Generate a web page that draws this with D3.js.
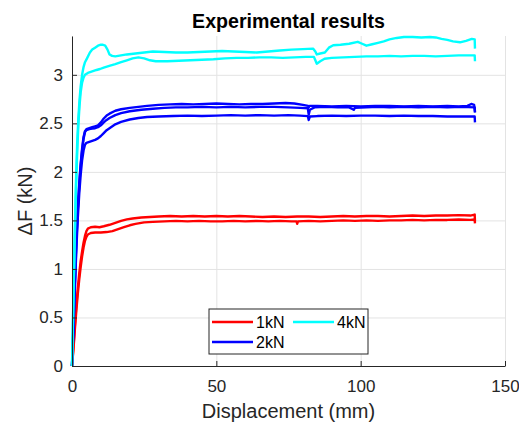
<!DOCTYPE html>
<html>
<head>
<meta charset="utf-8">
<script src="https://d3js.org/d3.v7.min.js"></script>
<style>
  html, body { margin: 0; padding: 0; background: #fff; }
  svg { display: block; font-family: 'Liberation Sans', Arial, sans-serif; }
  .grid line { stroke: #e3e3e3; stroke-width: 1; }
  .grid path { display: none; }
  .axis path, .axis line { stroke: #262626; }
  .axis text { fill: #262626; font-size: 17px; }
</style>
</head>
<body>
<div id="chart"></div>
<script>
(function () {
  'use strict';

  // Tick values
  const X_TICKS = [0, 50, 100, 150];
  const Y_TICKS = [0, 0.5, 1, 1.5, 2, 2.5, 3];

  const LABELS = ['1kN', '2kN', '4kN'];
  const COLORS = ['#ff0000', '#0000ff', '#00ffff'];

  // 1kN tests  [displacement mm, ΔF kN]
  const red1 = [[0,0],[0.5,0.2],[1,0.42],[1.5,0.62],[2,0.8],[2.5,0.95],[3,1.08],[3.5,1.18],[4,1.27],[4.5,1.34],[5,1.39],[5.5,1.415],[6.5,1.43],[8,1.435],[9.5,1.43],[11,1.44],[13,1.455],[15,1.475],[17,1.495],[19,1.51],[21,1.52],[24,1.53],[27,1.535],[30,1.54],[34,1.545],[38,1.54],[42,1.545],[46,1.54],[50,1.545],[54,1.54],[58,1.545],[62,1.54],[66,1.535],[70,1.54],[74,1.535],[78,1.54],[82,1.54],[86,1.535],[90,1.54],[94,1.545],[98,1.54],[102,1.545],[106,1.545],[110,1.54],[114,1.545],[118,1.55],[122,1.545],[126,1.55],[130,1.55],[134,1.555],[138,1.55],[139.5,1.56],[139.6,1.49]];
  const red2 = [[0,0],[0.5,0.17],[1,0.38],[1.5,0.57],[2,0.74],[2.5,0.89],[3,1.02],[3.5,1.13],[4,1.22],[4.5,1.29],[5,1.33],[5.5,1.355],[6.5,1.37],[8,1.375],[10,1.375],[12,1.38],[14,1.39],[16,1.41],[18,1.43],[20,1.45],[22,1.465],[25,1.48],[28,1.485],[32,1.49],[36,1.495],[40,1.49],[44,1.495],[48,1.49],[52,1.49],[56,1.495],[60,1.49],[64,1.495],[68,1.49],[72,1.495],[76,1.49],[77.8,1.49],[78,1.465],[78.3,1.49],[82,1.495],[86,1.49],[90,1.495],[94,1.5],[98,1.495],[102,1.5],[106,1.495],[110,1.5],[114,1.5],[118,1.505],[122,1.5],[126,1.505],[130,1.505],[134,1.51],[138,1.505],[139.5,1.51],[139.6,1.47]];

  // 2kN tests
  const blue1 = [[0,0],[0.5,0.42],[1,0.88],[1.5,1.3],[2,1.62],[2.5,1.88],[3,2.08],[3.5,2.24],[4,2.36],[4.5,2.42],[5,2.44],[6,2.45],[7,2.46],[8,2.47],[9,2.48],[10,2.51],[11,2.55],[12,2.58],[13,2.6],[15,2.63],[17,2.645],[20,2.66],[23,2.67],[26,2.68],[30,2.69],[34,2.695],[38,2.7],[42,2.695],[46,2.7],[50,2.705],[54,2.7],[58,2.695],[62,2.7],[66,2.7],[70,2.705],[74,2.71],[77,2.705],[80,2.69],[81.8,2.68],[82,2.665],[82.3,2.68],[85,2.68],[90,2.675],[95,2.68],[100,2.675],[105,2.68],[110,2.68],[115,2.675],[120,2.68],[125,2.675],[130,2.68],[134,2.675],[137,2.68],[138.3,2.7],[139.3,2.69],[139.6,2.62]];
  const blue2 = [[0,0],[0.5,0.4],[1,0.85],[1.5,1.26],[2,1.6],[2.5,1.86],[3,2.06],[3.5,2.22],[4,2.34],[4.5,2.41],[5,2.43],[6,2.44],[7,2.445],[8,2.45],[9,2.46],[10,2.48],[11,2.51],[12,2.535],[13,2.555],[15,2.585],[17,2.605],[20,2.625],[24,2.64],[28,2.65],[32,2.66],[36,2.665],[40,2.665],[45,2.67],[50,2.665],[55,2.67],[60,2.665],[65,2.67],[70,2.67],[75,2.665],[79,2.66],[81.7,2.655],[82,2.59],[82.4,2.64],[84,2.665],[88,2.67],[92,2.665],[96,2.665],[97.6,2.64],[98,2.66],[102,2.665],[106,2.67],[110,2.665],[115,2.67],[120,2.665],[125,2.67],[130,2.665],[135,2.67],[139.5,2.665],[139.6,2.61]];
  const blue3 = [[0,0],[0.5,0.38],[1,0.8],[1.5,1.2],[2,1.52],[2.5,1.77],[3,1.97],[3.5,2.12],[4,2.22],[4.5,2.28],[5,2.3],[6,2.31],[7,2.32],[8,2.33],[9,2.345],[10,2.37],[11,2.4],[12,2.43],[13,2.45],[15,2.49],[17,2.515],[20,2.54],[23,2.555],[26,2.565],[30,2.57],[35,2.575],[40,2.58],[45,2.575],[50,2.58],[55,2.585],[60,2.58],[65,2.585],[70,2.58],[75,2.585],[79,2.58],[81.7,2.575],[82,2.535],[82.4,2.57],[85,2.575],[90,2.58],[95,2.575],[100,2.58],[105,2.58],[110,2.575],[115,2.58],[120,2.575],[125,2.575],[130,2.57],[135,2.57],[139.5,2.57],[139.6,2.51]];

  // 4kN tests
  const cyan1 = [[0,0],[0.3,0.42],[0.6,0.88],[1,1.42],[1.4,1.92],[1.8,2.3],[2.2,2.55],[2.6,2.74],[3,2.88],[3.5,3.0],[4,3.08],[4.5,3.13],[5.2,3.17],[6.2,3.23],[7,3.26],[8,3.28],[9,3.3],[10,3.31],[10.7,3.31],[11.5,3.3],[12.3,3.26],[13,3.21],[13.9,3.195],[15,3.19],[17,3.2],[19,3.21],[22,3.22],[25,3.23],[28,3.24],[32,3.235],[36,3.23],[40,3.23],[44,3.235],[48,3.24],[52,3.245],[56,3.24],[60,3.235],[64,3.23],[68,3.24],[72,3.25],[76,3.26],[80,3.265],[83.5,3.27],[84.3,3.24],[84.8,3.21],[86,3.22],[87.6,3.23],[89,3.28],[90.5,3.305],[93,3.31],[96,3.32],[99,3.34],[100.5,3.32],[102,3.3],[104,3.315],[106,3.33],[108,3.345],[110,3.365],[112.5,3.38],[115,3.39],[118,3.39],[121,3.385],[124,3.39],[126,3.385],[128,3.37],[130,3.36],[132,3.345],[134.4,3.335],[136.5,3.35],[138.5,3.37],[139.5,3.365],[139.6,3.27]];
  const cyan2 = [[0,0],[0.3,0.4],[0.6,0.84],[1,1.36],[1.4,1.84],[1.8,2.2],[2.2,2.48],[2.6,2.68],[3,2.82],[3.5,2.92],[4,2.97],[4.5,3.0],[5.5,3.02],[7,3.035],[8.5,3.05],[9.7,3.06],[11,3.075],[13.2,3.095],[15,3.11],[17,3.13],[19,3.15],[21,3.17],[23,3.18],[25,3.17],[27,3.15],[29,3.14],[33,3.14],[37,3.145],[41,3.15],[45,3.155],[49,3.16],[53,3.17],[57,3.175],[61,3.175],[65,3.18],[69,3.18],[73,3.175],[77,3.18],[81,3.185],[83.8,3.185],[84.3,3.15],[84.8,3.115],[86,3.14],[87.5,3.165],[90,3.175],[94,3.18],[98,3.185],[102,3.19],[106,3.19],[110,3.195],[114,3.19],[118,3.195],[122,3.195],[126,3.19],[130,3.195],[134,3.2],[138,3.2],[139.5,3.2],[139.6,3.14]];

  const SERIES = [
    { label: LABELS[0], color: COLORS[0], curves: [red1, red2] },
    { label: LABELS[1], color: COLORS[1], curves: [blue1, blue2, blue3] },
    { label: LABELS[2], color: COLORS[2], curves: [cyan1, cyan2] },
  ];

  const W = 519, H = 426;
  const margin = { top: 36, right: 14, bottom: 60, left: 72 };
  const plotW = W - margin.left - margin.right;
  const plotH = H - margin.top - margin.bottom;

  const svg = d3.select('#chart').append('svg')
    .attr('width', W)
    .attr('height', H);

  const x = d3.scaleLinear().domain([0, 150]).range([0, plotW]);
  const y = d3.scaleLinear().domain([0, 3.4]).range([plotH, 0]);

  const g = svg.append('g')
    .attr('transform', `translate(${margin.left},${margin.top})`);

  // Grid
  g.append('g')
    .attr('class', 'grid')
    .attr('transform', `translate(0,${plotH})`)
    .call(d3.axisBottom(x).tickValues(X_TICKS).tickSize(-plotH).tickFormat(''));
  g.append('g')
    .attr('class', 'grid')
    .call(d3.axisLeft(y).tickValues(Y_TICKS).tickSize(-plotW).tickFormat(''));

  // Curves
  const line = d3.line()
    .x(d => x(d[0]))
    .y(d => y(d[1]));

  SERIES.forEach(s => {
    s.curves.forEach(c => {
      g.append('path')
        .datum(c)
        .attr('d', line)
        .attr('fill', 'none')
        .attr('stroke', s.color)
        .attr('stroke-width', 2.4)
        .attr('stroke-linejoin', 'round');
    });
  });

  // Axes (ticks point inward, MATLAB style)
  const xAxis = g.append('g')
    .attr('class', 'axis')
    .attr('transform', `translate(0,${plotH})`)
    .call(d3.axisBottom(x).tickValues(X_TICKS).tickSizeInner(-5).tickSizeOuter(0).tickPadding(14));
  xAxis.selectAll('text').attr('dy', '0.71em');

  g.append('g')
    .attr('class', 'axis')
    .call(d3.axisLeft(y).tickValues(Y_TICKS).tickSizeInner(-5).tickSizeOuter(0).tickPadding(9)
      .tickFormat(d => String(d)));

  // Title and labels
  svg.append('text')
    .attr('x', margin.left + plotW / 2)
    .attr('y', 28)
    .attr('text-anchor', 'middle')
    .style('font-size', '19.6px')
    .style('font-weight', 'bold')
    .style('fill', '#000')
    .text('Experimental results');

  svg.append('text')
    .attr('x', margin.left + plotW / 2)
    .attr('y', 418)
    .attr('text-anchor', 'middle')
    .style('font-size', '20px')
    .style('fill', '#262626')
    .text('Displacement (mm)');

  svg.append('text')
    .attr('transform', `translate(32,${margin.top + plotH / 2}) rotate(-90)`)
    .attr('text-anchor', 'middle')
    .style('font-size', '20px')
    .style('fill', '#262626')
    .text('ΔF (kN)');

  // Legend: two columns (1kN, 4kN / 2kN)
  const legend = svg.append('g').attr('transform', 'translate(209,309)');
  legend.append('rect')
    .attr('width', 159).attr('height', 45)
    .attr('fill', '#fff')
    .attr('stroke', '#262626')
    .attr('stroke-width', 1);

  const slots = [[3, 13], [3, 33], [84, 13]];
  SERIES.forEach((s, i) => {
    const [lx, ly] = slots[i];
    legend.append('line')
      .attr('x1', lx).attr('x2', lx + 41)
      .attr('y1', ly).attr('y2', ly)
      .attr('stroke', s.color)
      .attr('stroke-width', 2.5);
    legend.append('text')
      .attr('x', lx + 44).attr('y', ly + 6)
      .style('font-size', '16px')
      .style('fill', '#000')
      .text(s.label);
  });
})();
</script>
</body>
</html>
